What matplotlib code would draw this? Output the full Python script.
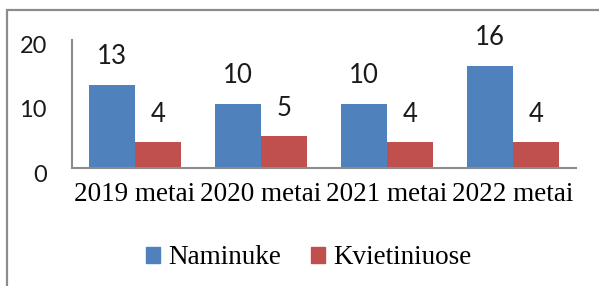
import matplotlib.pyplot as plt
import matplotlib.transforms as mtrans
from matplotlib.patches import Rectangle, Patch
import numpy as np

plt.rcParams["font.family"] = "Lato"

# chart data
categories = ["2019 metai", "2020 metai", "2021 metai", "2022 metai"]
naminuke = [13, 10, 10, 16]
kvietiniuose = [4, 5, 4, 4]
series_names = ["Naminuke", "Kvietiniuose"]

BLUE = "#4F81BD"
RED = "#C0504D"
GRAY = "#8C8C8C"
W, H = 599, 286

fig = plt.figure(figsize=(W / 100, H / 100), dpi=100)
fig.set_facecolor("white")

# outer chart border (right and bottom fall outside the picture)
fig.patches.append(
    Rectangle((7 / W, -0.1), 1.2, 1 - 10 / H + 0.1, transform=fig.transFigure,
              fill=False, edgecolor=GRAY, lw=1.6)
)

ax = fig.add_axes([72 / W, 1 - 168 / H, (576 - 72) / W, (168 - 40) / H])
x = np.arange(len(categories))
bw = 0.365
b1 = ax.bar(x - bw / 2, naminuke, bw, color=BLUE)
b2 = ax.bar(x + bw / 2, kvietiniuose, bw, color=RED)

ax.set_xlim(-0.5, len(categories) - 0.5)
ax.set_ylim(0, 20)
ax.set_yticks([0, 10, 20])
ax.set_yticklabels(["0", "10", "20"], fontsize=17, color="#1a1a1a")
ax.tick_params(axis="y", length=0, pad=18)
ax.set_xticks(x)
ax.set_xticklabels(categories, fontfamily="Liberation Serif", fontsize=19.5,
                   color="black")
ax.tick_params(axis="x", length=0, pad=10)

offset = mtrans.ScaledTranslation(0, -5 / 100, fig.dpi_scale_trans)
for lbl in ax.get_yticklabels():
    lbl.set_transform(lbl.get_transform() + offset)

for s in ["top", "right"]:
    ax.spines[s].set_visible(False)
for s in ["left", "bottom"]:
    ax.spines[s].set_color(GRAY)
    ax.spines[s].set_linewidth(1.5)

# data labels above bars
for bars, vals in [(b1, naminuke), (b2, kvietiniuose)]:
    for rect, v in zip(bars, vals):
        ax.annotate(str(v), (rect.get_x() + rect.get_width() / 2, v),
                    xytext=(0, 28), textcoords="offset pixels",
                    ha="center", va="center", fontsize=18.5, color="#1a1a1a")

handles = [Patch(color=BLUE), Patch(color=RED)]
fig.legend(handles, series_names, loc="center",
           bbox_to_anchor=(309 / W, 1 - 258 / H), ncol=2, frameon=False,
           prop={"family": "Liberation Serif", "size": 19.5},
           handlelength=0.52, handleheight=0.52, handletextpad=0.3,
           columnspacing=1.1)

fig.savefig("out.png", dpi=100, facecolor="white")
